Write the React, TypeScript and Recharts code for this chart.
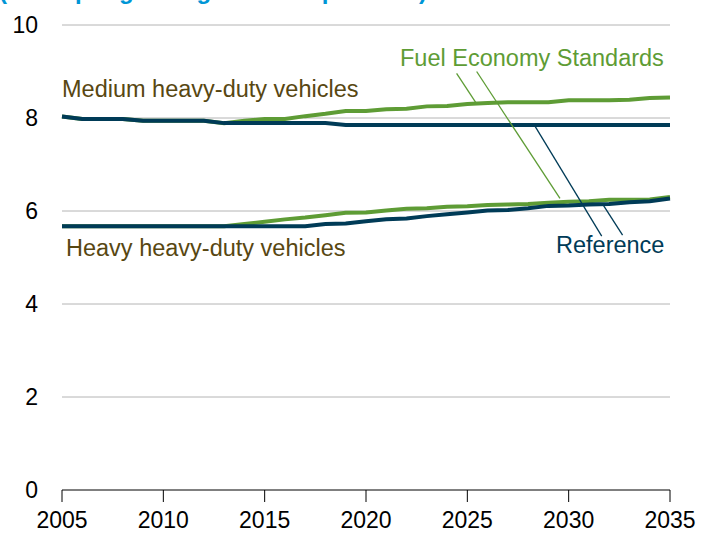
import React from 'react';
import { LineChart, Line, XAxis, YAxis, CartesianGrid, ReferenceLine } from 'recharts';

// model years on the x axis
const years = [
  2005, 2006, 2007, 2008, 2009, 2010, 2011, 2012, 2013, 2014,
  2015, 2016, 2017, 2018, 2019, 2020, 2021, 2022, 2023, 2024,
  2025, 2026, 2027, 2028, 2029, 2030, 2031, 2032, 2033, 2034, 2035,
];

// miles per gallon gasoline equivalent
const mediumReference = [
  8.03, 7.98, 7.98, 7.98, 7.94, 7.94, 7.94, 7.94, 7.89, 7.89,
  7.89, 7.89, 7.89, 7.89, 7.85, 7.85, 7.85, 7.85, 7.85, 7.85,
  7.85, 7.85, 7.85, 7.85, 7.85, 7.85, 7.85, 7.85, 7.85, 7.85, 7.85,
];
const mediumStandards = [
  8.03, 7.98, 7.98, 7.98, 7.94, 7.94, 7.94, 7.94, 7.89, 7.94,
  7.98, 7.98, 8.04, 8.09, 8.15, 8.15, 8.19, 8.2, 8.25, 8.26,
  8.3, 8.32, 8.34, 8.34, 8.34, 8.38, 8.38, 8.38, 8.39, 8.43, 8.44,
];
const heavyReference = [
  5.67, 5.67, 5.67, 5.67, 5.67, 5.67, 5.67, 5.67, 5.67, 5.67,
  5.67, 5.67, 5.67, 5.72, 5.73, 5.78, 5.82, 5.84, 5.89, 5.93,
  5.97, 6.01, 6.02, 6.06, 6.11, 6.12, 6.14, 6.15, 6.19, 6.21, 6.27,
];
const heavyStandards = [
  5.67, 5.67, 5.67, 5.67, 5.67, 5.67, 5.67, 5.67, 5.67, 5.72,
  5.77, 5.82, 5.86, 5.91, 5.96, 5.97, 6.01, 6.05, 6.06, 6.09,
  6.1, 6.13, 6.14, 6.15, 6.18, 6.2, 6.21, 6.24, 6.24, 6.25, 6.3,
];

const xTicks = [2005, 2010, 2015, 2020, 2025, 2030, 2035];
const yTicks = [0, 2, 4, 6, 8, 10];

// leader lines from the labels to the curves, in data units
const standardsLeaders = [
  [{ x: 2024.47, y: 8.96 }, { x: 2025.42, y: 8.33 }],
  [{ x: 2025.46, y: 9.0 }, { x: 2029.57, y: 6.27 }],
];
const referenceLeaders = [
  [{ x: 2028.33, y: 7.83 }, { x: 2031.63, y: 5.46 }],
  [{ x: 2031.7, y: 6.13 }, { x: 2032.66, y: 5.48 }],
];

const data = years.map((year, i) => ({
  year,
  mediumReference: mediumReference[i],
  mediumStandards: mediumStandards[i],
  heavyReference: heavyReference[i],
  heavyStandards: heavyStandards[i],
}));

const GREEN = '#5e9c35';
const NAVY = '#003b57';
const OLIVE = '#584712';
const FONT = '"Liberation Sans", Arial, sans-serif';

export default function App() {
  return (
    <div style={{ position: 'absolute', left: 0, top: 0, width: 712, height: 538, background: '#fff', overflow: 'hidden', fontFamily: FONT }}>
      <LineChart
        width={712}
        height={538}
        data={data}
        margin={{ top: 25, right: 42, bottom: 18, left: 2 }}
      >
        <CartesianGrid horizontal vertical={false} stroke="#b4b4b4" horizontalValues={[2, 4, 6, 8, 10]} />
        <XAxis
          dataKey="year"
          type="number"
          domain={[2005, 2035]}
          ticks={xTicks}
          height={30}
          stroke="#000"
          tickSize={12}
          tickMargin={10}
          tick={{ fill: '#000', fontSize: 23, fontFamily: FONT }}
        />
        <YAxis
          domain={[0, 10]}
          ticks={yTicks}
          width={60}
          axisLine={false}
          tickLine={false}
          tickSize={0}
          tickMargin={24}
          tick={{ fill: '#000', fontSize: 23, fontFamily: FONT }}
        />
        <Line dataKey="mediumStandards" stroke={GREEN} strokeWidth={4} dot={false} isAnimationActive={false} />
        <Line dataKey="heavyStandards" stroke={GREEN} strokeWidth={4} dot={false} isAnimationActive={false} />
        <Line dataKey="mediumReference" stroke={NAVY} strokeWidth={4} dot={false} isAnimationActive={false} />
        <Line dataKey="heavyReference" stroke={NAVY} strokeWidth={4} dot={false} isAnimationActive={false} />
        {standardsLeaders.map((seg, i) => (
          <ReferenceLine key={'s' + i} segment={seg} stroke={GREEN} strokeWidth={1.3} ifOverflow="visible" />
        ))}
        {referenceLeaders.map((seg, i) => (
          <ReferenceLine key={'r' + i} segment={seg} stroke={NAVY} strokeWidth={1.3} ifOverflow="visible" />
        ))}
      </LineChart>
      <svg width={712} height={538} style={{ position: 'absolute', left: 0, top: 0, pointerEvents: 'none' }}>
        <text x={-1} y={-1} fontSize={24} fontWeight="bold" fill="#0096d6" fontFamily={FONT}>
          (miles per gallon gasoline equivalent)
        </text>
        <text x={62} y={97} fontSize={23.5} fill={OLIVE} fontFamily={FONT}>Medium heavy-duty vehicles</text>
        <text x={66} y={256} fontSize={23.5} fill={OLIVE} fontFamily={FONT}>Heavy heavy-duty vehicles</text>
        <text x={400} y={66} fontSize={23.5} fill={GREEN} fontFamily={FONT}>Fuel Economy Standards</text>
        <text x={556} y={253} fontSize={23.5} fill={NAVY} fontFamily={FONT}>Reference</text>
      </svg>
    </div>
  );
}
